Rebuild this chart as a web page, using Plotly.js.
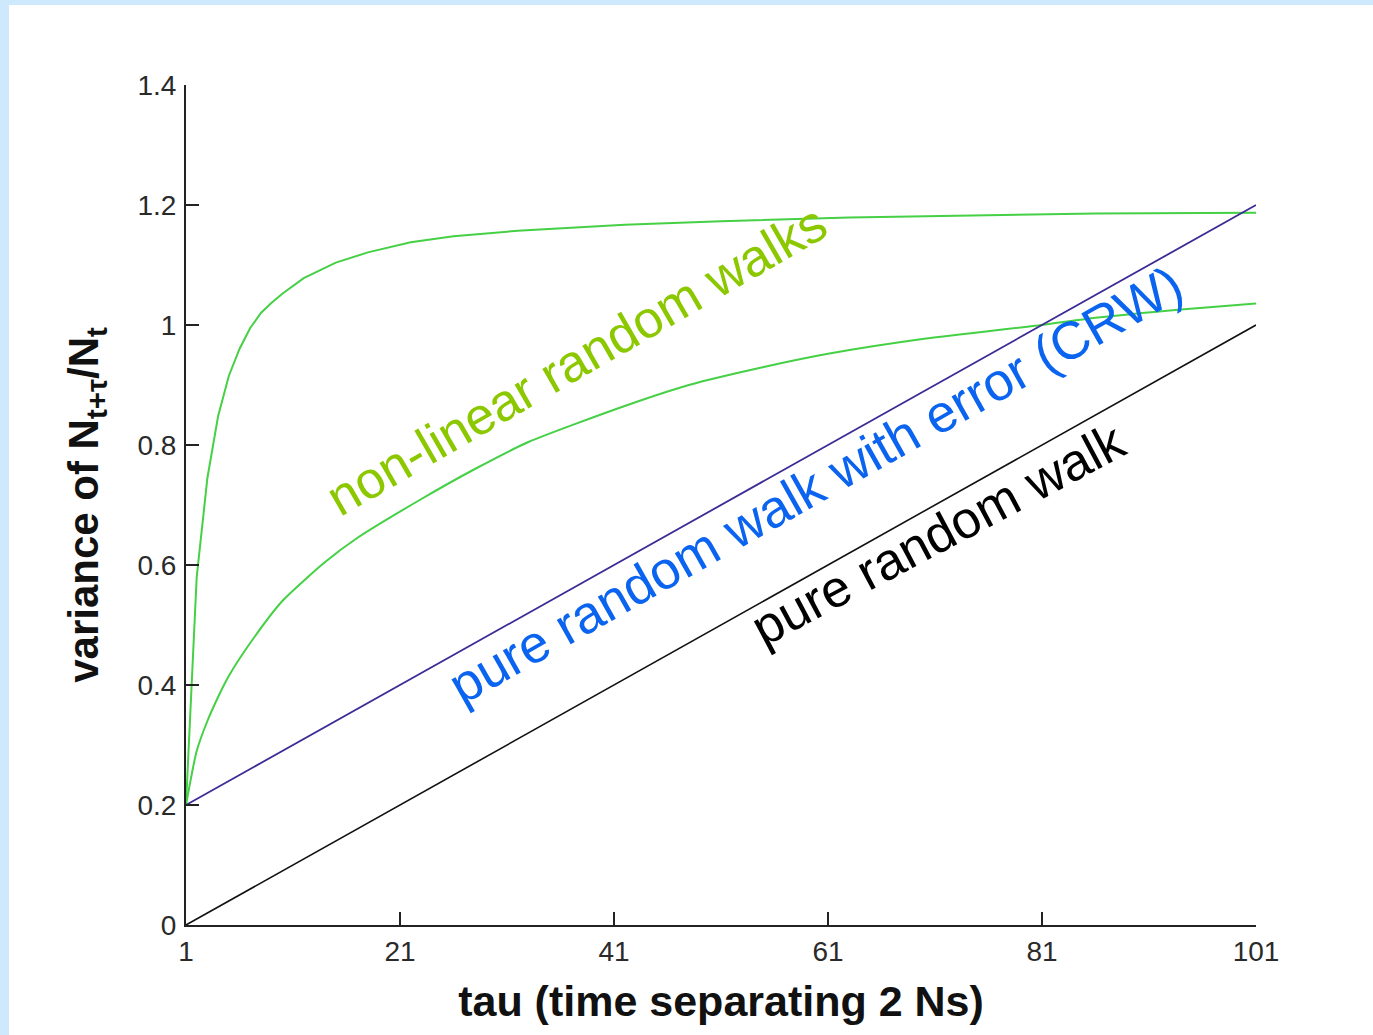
<!DOCTYPE html>
<html>
<head>
<meta charset="utf-8">
<script src="https://cdn.plot.ly/plotly-3.0.1.min.js"></script>
<style>
  html, body { margin:0; padding:0; background:#cde9fb; width:1373px; height:1035px; overflow:hidden; }
  #chart { position:absolute; left:9px; top:5px; width:1364px; height:1030px; background:#fff; }
</style>
</head>
<body>
<div id="chart"></div>
<script>
// ---- data ----
const fastTau = [1,2,3,4,5,6,7,8,9,10,12,15,18,22,26,32,42,51,63,75,86,101];
const fastVar = [0.2,0.58,0.745,0.848,0.915,0.96,0.995,1.02,1.037,1.052,1.078,1.104,1.121,1.138,1.148,1.157,1.167,1.173,1.179,1.183,1.186,1.187];

const slowTau = [1,2,3,4,5,7,10,14,17,23,28,33,42,48,55,61,70,81,86,94,101];
const slowVar = [0.2,0.29,0.34,0.38,0.415,0.47,0.54,0.605,0.645,0.71,0.76,0.805,0.865,0.9,0.93,0.952,0.977,1.0,1.012,1.026,1.036];

const crwTau = [1,101];
const crwVar = [0.2,1.2];

const rwTau = [1,101];
const rwVar = [0,1];

const xTicks = [1,21,41,61,81,101];
const yTicks = [0,0.2,0.4,0.6,0.8,1,1.2,1.4];
const yTickText = ["0","0.2","0.4","0.6","0.8","1","1.2","1.4"];

const labels = ["non-linear random walks","pure random walk with error (CRW)","pure random walk"];
const labelTau = [37.5,59.8,71.3];
const labelVar = [0.942,0.735,0.652];

// ---- plot ----
const FONT = "Liberation Sans, Arial, Helvetica, sans-serif";
const green = "#45d045";
const traces = [
  {x: fastTau, y: fastVar, mode:"lines", line:{color:green, width:2}, hoverinfo:"skip"},
  {x: slowTau, y: slowVar, mode:"lines", line:{color:green, width:2, shape:"spline", smoothing:0.6}, hoverinfo:"skip"},
  {x: rwTau, y: rwVar, mode:"lines", line:{color:"#111111", width:1.6}, hoverinfo:"skip"},
  {x: crwTau, y: crwVar, mode:"lines", line:{color:"#3b2c96", width:1.8}, hoverinfo:"skip"}
];

const annColors = ["#8cc800","#0a64f0","#000000"];
const annAngles = [-30,-29.5,-28];
const annSizes = [52,53,52];
const annotations = labels.map((t,i)=>({
  x: labelTau[i], y: labelVar[i], xref:"x", yref:"y", text: t, showarrow:false,
  textangle: annAngles[i], font:{family:FONT, size:annSizes[i], color:annColors[i]},
  xanchor:"center", yanchor:"middle"
}));

const axisCommon = {
  showgrid:false, zeroline:false, showline:true, linecolor:"#222", linewidth:2,
  ticks:"inside", ticklen:13, tickwidth:1.6, tickcolor:"#222",
  tickfont:{family:FONT, size:28, color:"#2a2a2a"}, mirror:false, fixedrange:true
};

const layout = {
  width:1364, height:1030,
  margin:{l:177, r:117, t:80, b:110, pad:0},
  paper_bgcolor:"#ffffff", plot_bgcolor:"#ffffff",
  showlegend:false,
  xaxis: Object.assign({}, axisCommon, {
    range:[1,101], tickvals:xTicks, ticktext:xTicks.map(String),
    ticklabelstandoff: 0,
    title:{text:"tau (time separating 2 Ns)", font:{family:FONT, size:43, color:"#111", weight:"bold"}, standoff:20}
  }),
  yaxis: Object.assign({}, axisCommon, {
    range:[0,1.4], tickvals:yTicks, ticktext:yTickText,
    ticklabelstandoff: 2,
    title:{text:"variance of N<sub>t+τ</sub>/N<sub>t</sub>", font:{family:FONT, size:42, color:"#111", weight:"bold"}, standoff:26}
  }),
  annotations: annotations
};

Plotly.newPlot("chart", traces, layout, {displayModeBar:false, staticPlot:true});
</script>
</body>
</html>
